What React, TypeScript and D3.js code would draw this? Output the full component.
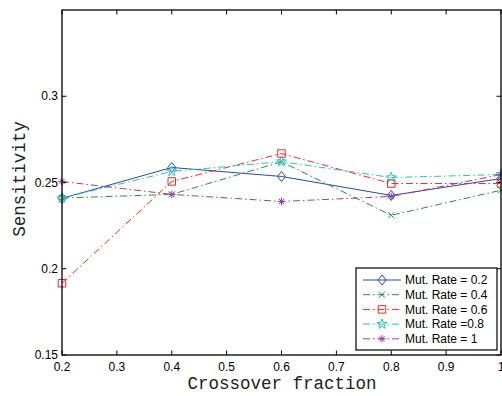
import React from "react";
import * as d3 from "d3";

const crossover = [0.2, 0.4, 0.6, 0.8, 1.0];
const mut02 = [0.2408, 0.2587, 0.2535, 0.2425, 0.2523];
const mut04 = [0.2410, 0.2431, 0.2620, 0.2310, 0.2455];
const mut06 = [0.1916, 0.2506, 0.2668, 0.2494, 0.2494];
const mut08 = [0.2410, 0.2564, 0.2621, 0.2529, 0.2546];
const mut10 = [0.2506, 0.2431, 0.2390, 0.2419, 0.2546];
const seriesNames = ["Mut. Rate = 0.2", "Mut. Rate = 0.4", "Mut. Rate = 0.6", "Mut. Rate =0.8", "Mut. Rate = 1"];
const xTicks = [0.2, 0.3, 0.4, 0.5, 0.6, 0.7, 0.8, 0.9, 1];
const yTicks = [0.15, 0.2, 0.25, 0.3];

const W = 502, H = 396;
const L = 62, R = 501, T = 10, B = 355;

type Marker = "diamond" | "x" | "square" | "pentagram" | "asterisk";

function markerPath(m: Marker, s: number): string {
  const r = s;
  switch (m) {
    case "diamond":
      return `M0,${-r}L${r * 0.8},0L0,${r}L${-r * 0.8},0Z`;
    case "square":
      return `M${-r * 0.75},${-r * 0.75}h${r * 1.5}v${r * 1.5}h${-r * 1.5}Z`;
    case "x": {
      const a = r * 0.6;
      return `M${-a},${-a}L${a},${a}M${-a},${a}L${a},${-a}`;
    }
    case "asterisk": {
      const a = r * 0.75;
      const b = a * 0.7071;
      return `M0,${-a}V${a}M${-a},0H${a}M${-b},${-b}L${b},${b}M${-b},${b}L${b},${-b}`;
    }
    case "pentagram": {
      const pts: string[] = [];
      const ro = r * 1.05, ri = ro * 0.4;
      for (let i = 0; i < 10; i++) {
        const ang = -Math.PI / 2 + (i * Math.PI) / 5;
        const rr = i % 2 === 0 ? ro : ri;
        pts.push(`${(rr * Math.cos(ang)).toFixed(2)},${(rr * Math.sin(ang)).toFixed(2)}`);
      }
      return "M" + pts.join("L") + "Z";
    }
  }
}

const styles = [
  { values: mut02, color: "#2a48aa", dash: "none", marker: "diamond" as Marker, ms: 5 },
  { values: mut04, color: "#2a8a4c", dash: "7,3,1.5,3", marker: "x" as Marker, ms: 5 },
  { values: mut06, color: "#f02828", dash: "7,3,1.5,3", marker: "square" as Marker, ms: 5 },
  { values: mut08, color: "#28c0c0", dash: "7,3,1.5,3", marker: "pentagram" as Marker, ms: 5 },
  { values: mut10, color: "#a03ca0", dash: "7,3,1.5,3", marker: "asterisk" as Marker, ms: 5 },
];

export default function App() {
  const x = d3.scaleLinear().domain([0.2, 1]).range([L, R]);
  const y = d3.scaleLinear().domain([0.15, 0.35]).range([B, T]);
  const line = d3
    .line<number>()
    .x((_, i) => x(crossover[i]))
    .y((d) => y(d));
  const fmt = (v: number) => (v === 1 ? "1" : String(v));
  const font = "'Liberation Sans', Arial, Helvetica, sans-serif";
  const mono = "'Liberation Mono', 'Courier New', monospace";
  const lgX = 356, lgY = 268, lgW = 141, lgH = 82;
  return (
    <svg width={W} height={H} style={{ position: "absolute", left: 0, top: 0, background: "#fff" }}>
      <rect x={0} y={0} width={W} height={H} fill="#fff" />
      {/* ticks */}
      {xTicks.map((t) => (
        <g key={"xt" + t}>
          <line x1={x(t)} x2={x(t)} y1={B} y2={B - 4.5} stroke="#000" strokeWidth={1} />
          <line x1={x(t)} x2={x(t)} y1={T} y2={T + 4.5} stroke="#000" strokeWidth={1} />
          <text x={x(t)} y={371} fontFamily={font} fontSize={12} textAnchor="middle">
            {fmt(t)}
          </text>
        </g>
      ))}
      {yTicks.map((t) => (
        <g key={"yt" + t}>
          <line x1={L} x2={L + 4.5} y1={y(t)} y2={y(t)} stroke="#000" strokeWidth={1} />
          <line x1={R} x2={R - 4.5} y1={y(t)} y2={y(t)} stroke="#000" strokeWidth={1} />
          <text x={L - 4} y={y(t) + 4} fontFamily={font} fontSize={12} textAnchor="end">
            {String(t)}
          </text>
        </g>
      ))}
      {/* series */}
      {styles.map((s, si) => (
        <g key={"s" + si}>
          <path d={line(s.values) || ""} fill="none" stroke={s.color} strokeWidth={1} strokeDasharray={s.dash} />
          {s.values.map((v, i) => (
            <path
              key={i}
              d={markerPath(s.marker, s.ms)}
              transform={`translate(${x(crossover[i])},${y(v)})`}
              fill="none"
              stroke={s.color}
              strokeWidth={1}
            />
          ))}
        </g>
      ))}
      {/* frame */}
      <rect x={L} y={T} width={R - L} height={B - T} fill="none" stroke="#000" strokeWidth={1.3} />
      {/* legend */}
      <rect x={lgX} y={lgY} width={lgW} height={lgH} fill="#fff" stroke="#000" strokeWidth={1.2} />
      {styles.map((s, i) => {
        const ry = 280 + i * 14.7;
        return (
          <g key={"lg" + i}>
            <line x1={363} x2={401} y1={ry} y2={ry} stroke={s.color} strokeWidth={1} strokeDasharray={s.dash} />
            <path d={markerPath(s.marker, s.ms)} transform={`translate(382,${ry})`} fill="none" stroke={s.color} strokeWidth={1} />
            <text x={405} y={ry + 4.3} fontFamily={font} fontSize={12}>
              {seriesNames[i]}
            </text>
          </g>
        );
      })}
      {/* axis labels */}
      <text x={282} y={389} fontFamily={mono} fontSize={17.5} textAnchor="middle" fill="#222">
        Crossover fraction
      </text>
      <text
        transform={`translate(25,179) rotate(-90)`}
        fontFamily={mono}
        fontSize={17.5}
        textAnchor="middle"
        fill="#222"
      >
        Sensitivity
      </text>
    </svg>
  );
}
